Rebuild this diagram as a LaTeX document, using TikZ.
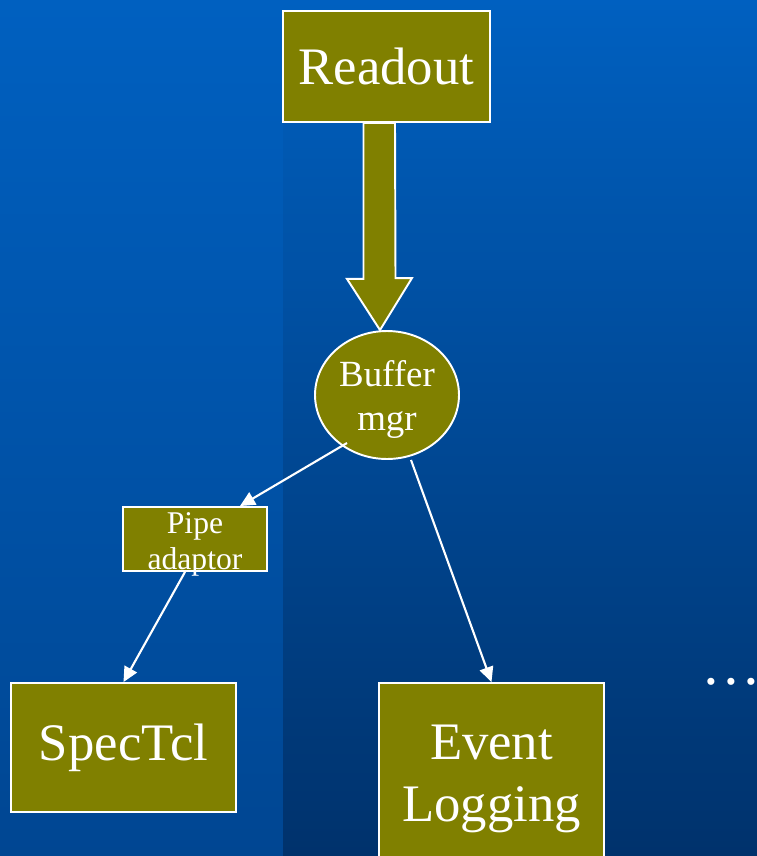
\documentclass[tikz,border=0pt]{standalone}
\usepackage{fontspec}
\setmainfont{Liberation Serif}
\usepackage{tikz}
\usetikzlibrary{positioning,arrows.meta,shapes.geometric,calc}
\definecolor{slidetop}{RGB}{0,96,192}
\definecolor{slideleft}{RGB}{0,70,146}
\definecolor{slideright}{RGB}{0,50,108}
\definecolor{olivefill}{RGB}{128,128,0}
\tikzset{
  box/.style={draw=white, line width=1.1pt, fill=olivefill, text=white,
              align=center, inner sep=0pt},
  bigbox/.style={box, font=\fontsize{30}{35}\selectfont},
  bufnode/.style={box, ellipse, minimum width=2.88cm, minimum height=2.56cm,
              font=\fontsize{21}{25}\selectfont},
  smalltext/.style={text=white, align=center, inner sep=0pt,
              font=\fontsize{18}{20.4}\selectfont},
  arrow/.style={-{Triangle[length=3mm,width=2.8mm]}, white, line width=1.2pt},
  blockarrow/.style={draw=white, line width=1.1pt, fill=olivefill, line join=miter},
}
\begin{document}
\begin{tikzpicture}[x=0.02cm, y=-0.02cm]
  % background
  \useasboundingbox (0,0) rectangle (757,856);
  \shade[top color=slidetop, bottom color=slideleft] (0,0) rectangle (283,856);
  \shade[top color=slidetop, bottom color=slideright] (283,0) rectangle (757,856);

  \node[bigbox, minimum width=4.14cm, minimum height=2.22cm] (readout) at (386.5,66.5) {Readout};
  \node[bufnode] (buf) at (387,395) {\rule{0pt}{20pt}Buffer\\mgr};
  \node[box, minimum width=2.88cm, minimum height=1.28cm] (pipe) at (195,539) {};
  \node[smalltext] (pipetext) at (195,544) {Pipe\\adaptor};
  \node[bigbox, minimum width=4.5cm, minimum height=2.58cm] (spectcl) at (123.5,747.5) {SpecTcl};
  \node[bigbox, minimum width=4.5cm, minimum height=3.84cm] (evlog) at (491.5,779) {Event\\Logging};
  \node[text=white, font=\fontsize{34}{40}\selectfont, inner sep=0pt] (more) at (731,682) {…};

  % fat arrow into the buffer manager
  \draw[blockarrow] ([xshift=-0.46cm]readout.south) -- ++(0,156) -- ++(-16.5,0)
    -- ([xshift=-0.14cm]buf.north) -- ++(32,-52) -- ++(-16.5,0)
    -- ([xshift=0.17cm]readout.south) -- cycle;

  \draw[arrow] ([shift={(-0.8cm,-0.96cm)}]buf.center) -- ([xshift=0.9cm]pipe.north);
  \draw[arrow] ([xshift=-0.2cm]pipe.south) -- (spectcl.north);
  \draw[arrow] ([xshift=0.48cm]buf.south) -- (evlog.north);
\end{tikzpicture}
\end{document}
